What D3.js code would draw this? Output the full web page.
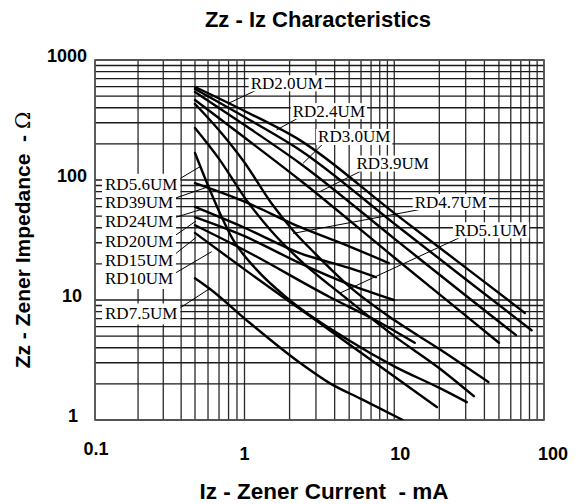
<!DOCTYPE html>
<html><head><meta charset="utf-8">
<script src="https://cdn.jsdelivr.net/npm/d3@7"></script>
<style>body{margin:0;background:#fff}</style>
</head><body><svg id="c" width="575" height="504"></svg>
<script>
// ---- data (Iz in mA, Zz in ohm) ----
const xTickValues = [0.1, 1, 10, 100];
const xTickLabels = ["0.1", "1", "10", "100"];
const yTickValues = [1, 10, 100, 1000];
const yTickLabels = ["1", "10", "100", "1000"];

const RD2_0 = [[0.5,596],[1,376],[2.34,215],[10,53],[30,18.6],[74.5,7.8]];
const RD2_4 = [[0.5,573],[1,335],[2.34,178],[10,43.3],[30,14.9],[82.6,5.6]];
const RD3_0 = [[0.5,541],[1,287],[2.34,138],[10,32.5],[30,10.9],[65,5.1]];
const RD3_9 = [[0.5,464],[1,226],[2.34,100],[10,22.6],[30,7.4],[50,4.4]];
const RD4_7 = [[0.5,430],[0.7,260],[1,140],[1.5,65],[2.11,38],[3,24],[5,13],[10,6.8],[20,3.9],[42.5,2.07]];
const RD5_1 = [[0.5,271],[0.7,150],[1.03,68],[1.5,38],[2.5,20],[4.33,11.4],[10,5],[20,2.7],[34,1.58]];
const RD5_6 = [[0.5,168],[0.6,90],[0.7,55],[0.85,32],[1.2,18],[2,10],[5,4.6],[10,2.8],[20,1.85],[30.5,1.41]];
const RD7_5 = [[0.5,15.2],[0.62,12.3],[1.03,6.8],[2.34,3],[3.7,2.03],[6,1.5],[11.4,1.0]];
const RD10  = [[0.5,36.2],[1,18],[3.7,5.6],[10,2.3],[19.3,1.28]];
const RD15  = [[0.5,42],[1,26],[3.7,10.6],[8,6.5],[13.7,4.4]];
const RD20  = [[0.5,49],[1,34],[2.34,20.3],[5,13.5],[9.93,10]];
const RD24  = [[0.5,59.6],[1,40],[2.34,24.6],[5,18.5],[7.54,15.5]];
const RD39  = [[0.5,94],[1,66],[2.34,40.6],[5,28],[9.2,20.3]];

const seriesNames  = ["RD2.0UM","RD2.4UM","RD3.0UM","RD3.9UM","RD4.7UM","RD5.1UM","RD5.6UM","RD7.5UM","RD10UM","RD15UM","RD20UM","RD24UM","RD39UM"];
const seriesValues = [RD2_0, RD2_4, RD3_0, RD3_9, RD4_7, RD5_1, RD5_6, RD7_5, RD10, RD15, RD20, RD24, RD39];

// label anchor (Iz, Zz) and leader target (Iz, Zz), in data units
const labelSide   = ["R","R","R","R","R","R","L","L","L","L","L","L","L"];
const labelAt     = [[1.10,643],[2.10,377],[3.10,229.6],[5.60,137.8],[13.7,65.9],[25.4,38.3],
                     [0.1175,92.6],[0.1175,7.69],[0.1175,15.2],[0.1175,21.5],[0.1175,31.0],[0.1175,45.5],[0.1175,65.6]];
const leaderTo    = [[0.797,435],[1.636,261],[2.46,137.8],[3.18,79.9],[2.11,35.9],[4.33,11.4],
                     [0.536,129],[0.617,12.5],[0.632,25.3],[0.509,33.3],[0.507,45.5],[0.549,57],[0.604,88]];

// ---- drawing ----
const svg = d3.select("#c");
// log scales (piecewise in the first decade, as on the printed grid)
const x = d3.scaleLog().domain([0.1, 0.5, 1, 100]).range([95, 195, 244.5, 544]);
const y = d3.scaleLog().domain([1, 1000]).range([420, 60]);

const gridX = [], gridY = [];
for (let e = -1; e < 2; e++) for (let k = 1; k <= 9; k++) gridX.push(k * Math.pow(10, e));
gridX.push(100);
for (let e = 0; e < 3; e++) for (let k = 1; k <= 9; k++) gridY.push(k * Math.pow(10, e));
gridY.push(1000);

const g = svg.append("g");
g.selectAll("line.gx").data(gridX).join("line").attr("class","gx")
  .attr("x1", d => x(d)).attr("x2", d => x(d)).attr("y1", y(1000)).attr("y2", y(1))
  .attr("stroke", "#2a2a2a").attr("stroke-width", 1.3);
g.selectAll("line.gy").data(gridY).join("line").attr("class","gy")
  .attr("y1", d => y(d)).attr("y2", d => y(d)).attr("x1", x(0.1)).attr("x2", x(100))
  .attr("stroke", "#1a1a1a").attr("stroke-width", 1.3);
g.append("rect").attr("x", x(0.1)).attr("y", y(1000)).attr("width", x(100) - x(0.1)).attr("height", y(1) - y(1000))
  .attr("fill", "none").attr("stroke", "#555").attr("stroke-width", 1.6);

svg.append("clipPath").attr("id","clip").append("rect")
  .attr("x", x(0.1)).attr("y", y(1000)).attr("width", x(100) - x(0.1)).attr("height", y(1) - y(1000));

const line = d3.line().x(d => x(d[0])).y(d => y(d[1])).curve(d3.curveMonotoneX);
svg.append("g").attr("clip-path","url(#clip)").selectAll("path").data(seriesValues).join("path")
  .attr("d", line).attr("fill","none").attr("stroke","#000").attr("stroke-width",2.4).attr("stroke-linecap","round");

// labels with leaders
const lg = svg.append("g");
const leaders = lg.append("g"), boxes = lg.append("g"), texts = lg.append("g");
seriesNames.forEach((name, i) => {
  const lx = x(labelAt[i][0]), ly = y(labelAt[i][1]);
  const ln = leaders.append("line").attr("x1", x(leaderTo[i][0])).attr("y1", y(leaderTo[i][1]))
    .attr("stroke", "#000").attr("stroke-width", 1);
  const rect = boxes.append("rect").attr("fill", "#fff");
  const t = texts.append("text").attr("x", lx).attr("y", ly).attr("dy", "0.34em")
    .attr("font-family", "'Liberation Serif','Times New Roman',serif").attr("font-size", 17)
    .attr("fill", "#000").text(name);
  const b = t.node().getBBox();
  if (labelSide[i] === "R") {
    rect.attr("x", b.x - 2).attr("y", b.y + 1.5).attr("width", b.width + 4).attr("height", b.height - 3);
    ln.attr("x2", b.x + 4).attr("y2", ly + 8);
  } else {
    rect.attr("x", b.x - 3).attr("y", b.y - 1).attr("width", b.width + 6).attr("height", b.height + 2);
    ln.attr("x2", b.x + b.width - 3).attr("y2", ly - 2);
  }
});

// axis tick labels
const sans = "'Liberation Sans',Arial,sans-serif";
svg.append("g").selectAll("text").data(xTickValues).join("text")
  .attr("x", d => x(d)).attr("y", (d, i) => i === 0 ? 455 : 459.5)
  .attr("dx", (d, i) => [1, 0, 6, 9][i])
  .attr("text-anchor", "middle").attr("font-family", sans).attr("font-weight", "bold").attr("font-size", 18)
  .text((d, i) => xTickLabels[i]);
svg.append("g").selectAll("text").data(yTickValues).join("text")
  .attr("x", (d, i) => [73, 72, 72, 67][i]).attr("y", d => y(d) + 2)
  .attr("text-anchor", "middle").attr("font-family", sans).attr("font-weight", "bold").attr("font-size", 18)
  .text((d, i) => yTickLabels[i]);

// titles
svg.append("text").attr("x", 318).attr("y", 27).attr("text-anchor","middle")
  .attr("font-family", sans).attr("font-weight","bold").attr("font-size", 22).text("Zz - Iz Characteristics");
svg.append("text").attr("x", 324).attr("y", 499).attr("text-anchor","middle")
  .attr("font-family", sans).attr("font-weight","bold").attr("font-size", 22.5).attr("xml:space","preserve")
  .text("Iz - Zener Current  - mA");
const yt = svg.append("text").attr("transform", "translate(30,240) rotate(-90)").attr("text-anchor","middle")
  .attr("font-family", sans).attr("font-weight","bold").attr("font-size", 21).attr("xml:space","preserve");
yt.append("tspan").text("Zz - Zener Impedance  - ");
yt.append("tspan").attr("font-weight","normal").attr("font-family","'DejaVu Serif',serif").text("Ω");
</script></body></html>
